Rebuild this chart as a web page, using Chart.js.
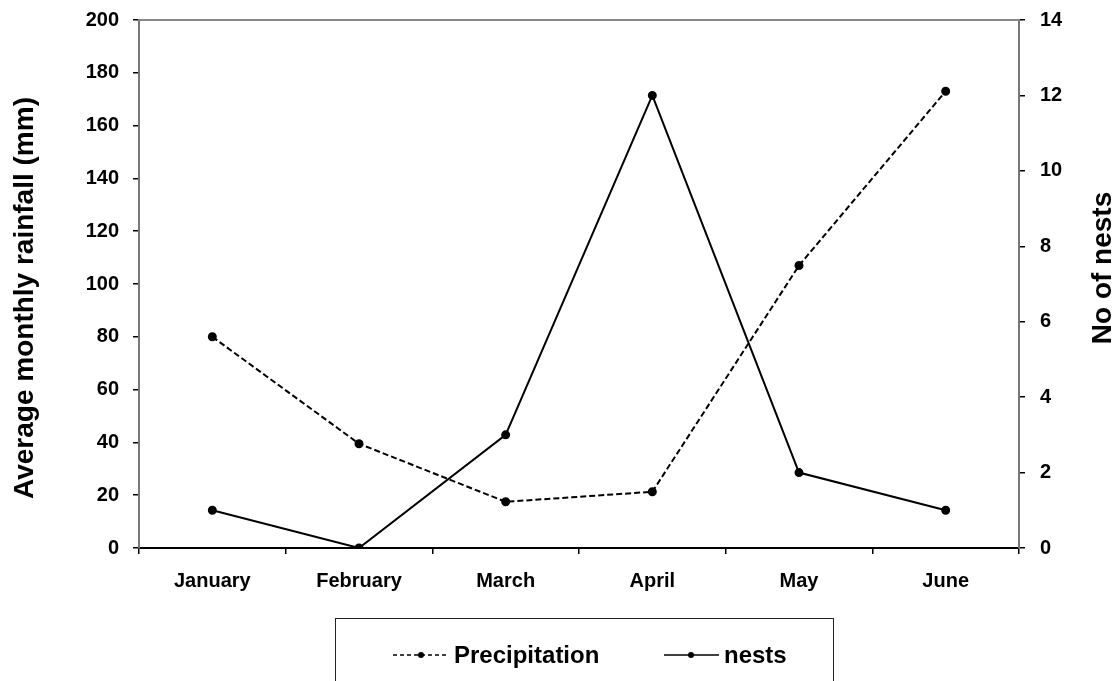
<!DOCTYPE html>
<html>
<head>
<meta charset="utf-8">
<script src="https://cdn.jsdelivr.net/npm/chart.js@4"></script>
<style>
  html, body { margin: 0; padding: 0; background: #fff; overflow: hidden; }
  #wrap { position: relative; width: 1120px; height: 681px; }
  #legend {
    position: absolute; left: 335px; top: 618px; width: 499px; height: 90px;
    border: 1.5px solid #222; box-sizing: border-box;
  }
  .item {
    position: absolute; top: 22px; display: flex; align-items: center;
    font: bold 24px "Liberation Sans", Arial, sans-serif; color: #000;
  }
  .item svg { margin-right: 5px; }
</style>
</head>
<body>
<div id="wrap">
  <canvas id="chart" width="1120" height="681"></canvas>
  <div id="legend">
    <div class="item" style="left:57px">
      <svg width="56" height="10"><line x1="0" y1="5" x2="56" y2="5" stroke="#000" stroke-width="1.5" stroke-dasharray="4,3"/><circle cx="28" cy="5" r="3" fill="#000"/></svg>
      <span>Precipitation</span>
    </div>
    <div class="item" style="left:328px">
      <svg width="55" height="10"><line x1="0" y1="5" x2="55" y2="5" stroke="#000" stroke-width="1.5"/><circle cx="27" cy="5" r="3" fill="#000"/></svg>
      <span>nests</span>
    </div>
  </div>
</div>
<script>
const months = ['January', 'February', 'March', 'April', 'May', 'June'];
const precipitation = [80, 39.5, 17.5, 21.3, 107, 173];
const nests = [1, 0, 3, 12, 2, 1];
const rainTitle = 'Average monthly rainfall (mm)';
const nestTitle = 'No of nests';

const FONT = '"Liberation Sans", Arial, sans-serif';
const tickFont = { family: FONT, size: 20, weight: 'bold' };

// axis titles and the grey frame line at the top of the plot
const extras = {
  id: 'extras',
  afterDraw(chart) {
    const { ctx, chartArea } = chart;
    ctx.save();
    ctx.strokeStyle = '#888';
    ctx.lineWidth = 2;
    ctx.beginPath();
    ctx.moveTo(chartArea.left, chartArea.top);
    ctx.lineTo(chartArea.right, chartArea.top);
    ctx.stroke();

    ctx.fillStyle = '#000';
    ctx.font = 'bold 28px ' + FONT;
    ctx.textAlign = 'center';
    ctx.textBaseline = 'middle';
    ctx.translate(25, 298);
    ctx.rotate(-Math.PI / 2);
    ctx.fillText(rainTitle, 0, 0);
    ctx.restore();

    ctx.save();
    ctx.fillStyle = '#000';
    ctx.font = 'bold 28px ' + FONT;
    ctx.textAlign = 'center';
    ctx.textBaseline = 'middle';
    ctx.translate(1103, 268);
    ctx.rotate(-Math.PI / 2);
    ctx.fillText(nestTitle, 0, 0);
    ctx.restore();
  }
};

const fitY = (w) => (s) => {
  s.width = w;
  s.paddingTop = 0;
  s.paddingBottom = 0;
};

new Chart(document.getElementById('chart'), {
  type: 'line',
  data: {
    labels: months,
    datasets: [{
      label: 'Precipitation',
      data: precipitation,
      yAxisID: 'y',
      borderColor: '#000',
      backgroundColor: '#000',
      pointBackgroundColor: '#000',
      borderWidth: 2,
      borderDash: [6, 3],
      pointRadius: 3.5,
      tension: 0
    }, {
      label: 'nests',
      data: nests,
      yAxisID: 'y1',
      borderColor: '#000',
      backgroundColor: '#000',
      pointBackgroundColor: '#000',
      borderWidth: 2,
      pointRadius: 3.5,
      tension: 0
    }]
  },
  options: {
    responsive: false,
    animation: false,
    layout: {
      padding: { top: 20, left: 0, right: 0, bottom: 0 }
    },
    plugins: {
      legend: { display: false },
      tooltip: { enabled: false }
    },
    scales: {
      x: {
        offset: true,
        grid: {
          offset: true,
          drawOnChartArea: false,
          tickLength: 6,
          color: '#000',
          lineWidth: 1.5
        },
        border: { color: '#000', width: 2 },
        ticks: { color: '#000', font: tickFont, padding: 15, maxRotation: 0 },
        afterFit: (s) => { s.height = 133; }
      },
      y: {
        position: 'left',
        min: 0,
        max: 200,
        grid: {
          drawOnChartArea: false,
          tickLength: 6,
          color: '#000',
          lineWidth: 1.5
        },
        border: { color: '#777', width: 2 },
        ticks: { stepSize: 20, color: '#000', font: tickFont, padding: 14 },
        afterFit: fitY(139)
      },
      y1: {
        position: 'right',
        min: 0,
        max: 14,
        grid: {
          drawOnChartArea: false,
          tickLength: 6,
          color: '#000',
          lineWidth: 1.5
        },
        border: { color: '#777', width: 2 },
        ticks: { stepSize: 2, color: '#000', font: tickFont, padding: 15 },
        afterFit: fitY(101)
      }
    }
  },
  plugins: [extras]
});
</script>
</body>
</html>
